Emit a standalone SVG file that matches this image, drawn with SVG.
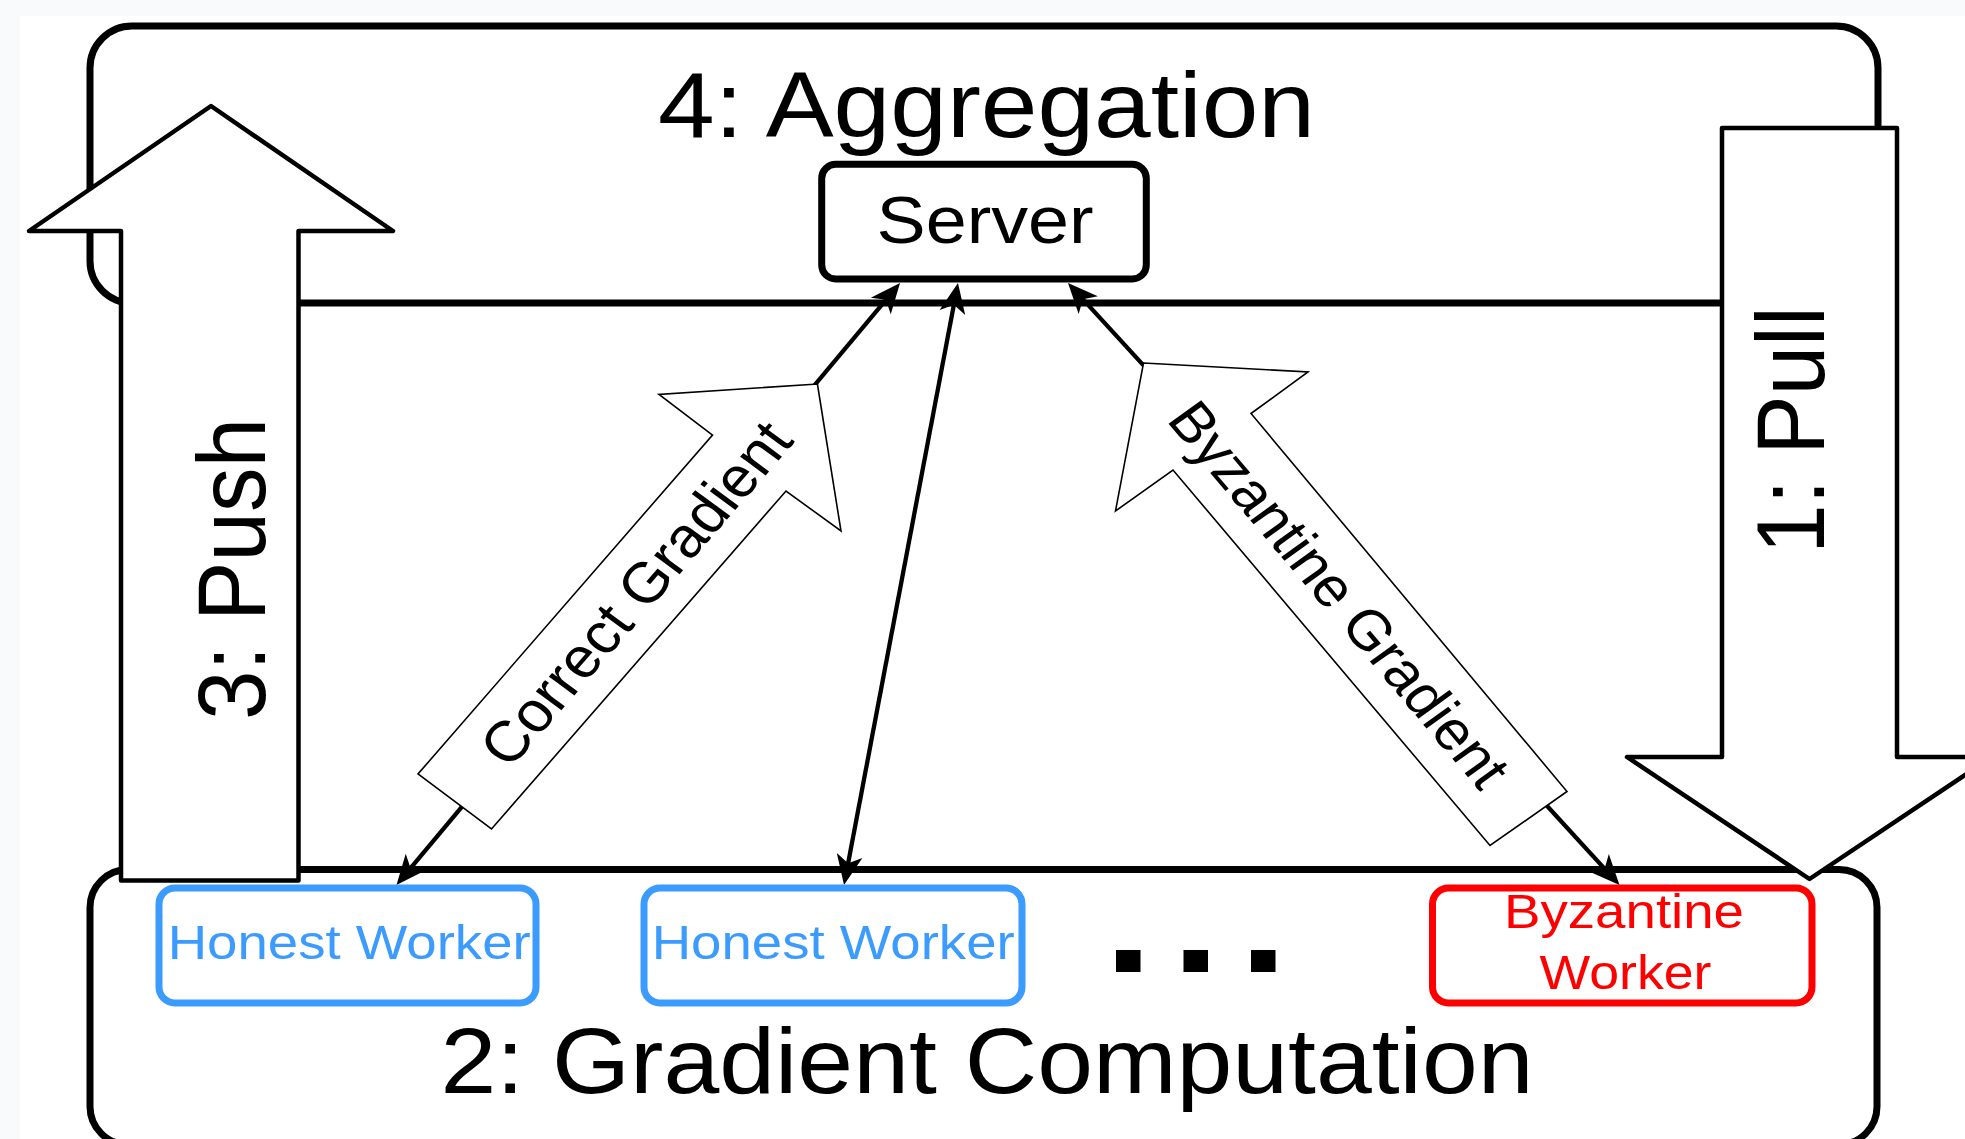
<svg xmlns="http://www.w3.org/2000/svg" width="1965" height="1139" viewBox="0 0 1965 1139">
  <style>
    text { font-family: "Liberation Sans", Arial, Helvetica, sans-serif; fill: #000; }
    .stage { fill: none; stroke: #000; stroke-width: 7; }
    .server { fill: #fff; stroke: #000; stroke-width: 7; }
    .honest { fill: #fff; stroke: #3b9bff; stroke-width: 7; }
    .byz { fill: #fff; stroke: #ff0000; stroke-width: 7; }
    .flow { fill: #fff; stroke: #000; stroke-width: 4.5; stroke-linejoin: round; }
    .grad { fill: #fff; stroke: #000; stroke-width: 1.6; stroke-linejoin: miter; }
    .link { fill: none; stroke: #000; stroke-width: 4.3; marker-start: url(#head); marker-end: url(#head); }
    .big { font-size: 92px; }
    .step { font-size: 89px; }
    .glabel { font-size: 57px; }
    .wlabel { font-size: 48px; }
  </style>
  <defs>
    <marker id="head" markerUnits="userSpaceOnUse" viewBox="-24 -15 34 30" markerWidth="34" markerHeight="30" refX="0" refY="0" orient="auto-start-reverse">
      <path d="M8,0 L-22,-13 L-14,0 L-22,13 Z" fill="#000"/>
    </marker>
  </defs>

  <!-- page -->
  <rect x="0" y="0" width="1965" height="1139" fill="#f8fafc"/>
  <rect x="20" y="16" width="1945" height="1123" fill="#fff"/>

  <!-- stage frames -->
  <g id="aggregation-stage">
    <rect class="stage" x="90" y="26" width="1788" height="277" rx="42"/>
    <text class="big" x="658" y="137.3" textLength="657" lengthAdjust="spacingAndGlyphs">4: Aggregation</text>
  </g>
  <g id="computation-stage">
    <rect class="stage" x="90" y="869.5" width="1787" height="275" rx="38"/>
    <text style="font-size:93px" x="440.5" y="1093.3" textLength="1093" lengthAdjust="spacingAndGlyphs">2: Gradient Computation</text>
  </g>

  <!-- connectors between server and workers -->
  <g id="connectors">
    <path class="link" d="M894.9,289.1 L401.6,878.9"/>
    <path class="link" d="M956.5,290.9 L845.5,877.1"/>
    <path class="link" d="M1073.4,288.9 L1614.1,879.1"/>

    <g id="correct-gradient">
      <polygon class="grad" points="817.4,384 841,531 786,491 491.5,829 418,774 712.5,435 659,394.5"/>
      <text class="glabel" transform="translate(635,593) scale(1.085,1) rotate(-51.3)" x="0" y="0" dy="0.358em" text-anchor="middle">Correct Gradient</text>
    </g>
    <g id="byzantine-gradient">
      <polygon class="grad" points="1143.5,363 1308,372 1251,413.5 1567,791.5 1490,845.5 1173,470 1115.5,511"/>
      <text class="glabel" style="font-size:55.5px" transform="translate(1340,594) scale(1.085,1) rotate(52)" x="0" y="0" dy="0.358em" text-anchor="middle">Byzantine Gradient</text>
    </g>
  </g>

  <!-- server -->
  <g id="server">
    <rect class="server" x="821.7" y="164.3" width="324.6" height="114.7" rx="14"/>
    <text style="font-size:66px" x="876.6" y="243.3" textLength="217" lengthAdjust="spacingAndGlyphs">Server</text>
  </g>

  <!-- workers -->
  <g id="honest-worker-1">
    <rect class="honest" x="159" y="888" width="377" height="115" rx="16"/>
    <text class="wlabel" x="167.7" y="959" textLength="363" lengthAdjust="spacingAndGlyphs" style="fill:#3b9bff">Honest Worker</text>
  </g>
  <g id="honest-worker-2">
    <rect class="honest" x="644" y="888" width="378" height="115" rx="16"/>
    <text class="wlabel" x="651.7" y="959" textLength="363" lengthAdjust="spacingAndGlyphs" style="fill:#3b9bff">Honest Worker</text>
  </g>
  <g id="more-workers">
    <rect x="1116" y="950" width="24.5" height="22" fill="#000"/>
    <rect x="1183.5" y="950" width="24.5" height="22" fill="#000"/>
    <rect x="1251" y="950" width="24.5" height="22" fill="#000"/>
  </g>
  <g id="byzantine-worker">
    <rect class="byz" x="1432.5" y="888" width="379.5" height="115" rx="16"/>
    <text class="wlabel" x="1504" y="928.3" textLength="240" lengthAdjust="spacingAndGlyphs" style="fill:#ff0000">Byzantine</text>
    <text class="wlabel" x="1539.5" y="989" textLength="172" lengthAdjust="spacingAndGlyphs" style="fill:#ff0000">Worker</text>
  </g>

  <!-- step arrows -->
  <g id="push">
    <polygon class="flow" points="211,106 393,231 298.5,231 298.5,880.5 121,880.5 121,231 29,231"/>
    <text class="step" transform="translate(265,569) scale(1.085,1) rotate(-90)" x="0" y="0" text-anchor="middle">3: Push</text>
  </g>
  <g id="pull">
    <polygon class="flow" points="1722,128 1897,128 1897,757 1992,757 1809.5,879 1627,757 1722,757"/>
    <text class="step" transform="translate(1824,430) scale(1.085,1) rotate(-90)" x="0" y="0" text-anchor="middle">1: Pull</text>
  </g>
</svg>
